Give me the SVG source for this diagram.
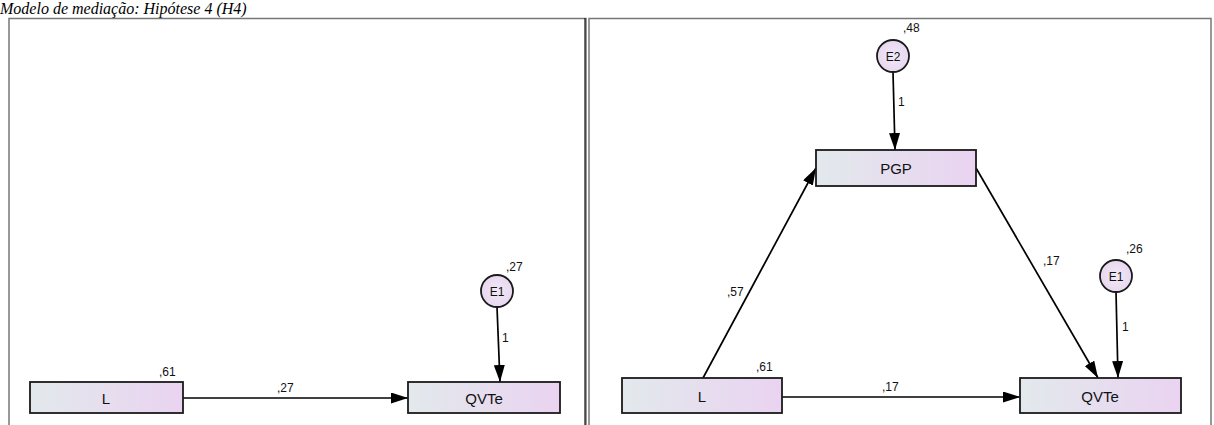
<svg xmlns="http://www.w3.org/2000/svg" width="1214" height="425" viewBox="0 0 1214 425">
  <style>
    .title { font-family: "Liberation Serif", "Times New Roman", serif; font-style: italic; font-size: 16px; fill: #000; }
    .panel { fill: #fff; stroke: #777; stroke-width: 1.5; }
    .var { stroke: #1a1a1a; stroke-width: 1.8; }
    .lbl { font-family: "Liberation Sans", Arial, sans-serif; font-size: 15px; fill: #111; text-anchor: middle; dominant-baseline: central; }
    .err { font-family: "Liberation Sans", Arial, sans-serif; font-size: 12px; fill: #111; text-anchor: middle; dominant-baseline: central; }
    .coef { font-family: "Liberation Sans", Arial, sans-serif; font-size: 12px; fill: #111; }
    .edge { stroke: #000; stroke-width: 1.7; fill: none; marker-end: url(#head); }
  </style>
  <defs>
    <linearGradient id="boxFill" x1="0" y1="0" x2="1" y2="0">
      <stop offset="0" stop-color="#e2e9ec"/>
      <stop offset="1" stop-color="#ead3f1"/>
    </linearGradient>
    <radialGradient id="errFill" cx="0.5" cy="0.5" r="0.6">
      <stop offset="0" stop-color="#f1e9f5"/>
      <stop offset="1" stop-color="#e6d4ef"/>
    </radialGradient>
    <marker id="head" viewBox="0 0 17 11" refX="17" refY="5.5" markerWidth="17" markerHeight="11" markerUnits="userSpaceOnUse" orient="auto">
      <path d="M0,0 L17,5.5 L0,11 Z" fill="#000"/>
    </marker>
  </defs>

  <rect width="1214" height="425" fill="#fff"/>

  <text class="title" x="0" y="14">Modelo de mediação: Hipótese 4 (H4)</text>

  <!-- panel frames -->
  <g id="frames">
    <rect class="panel" x="9" y="18.5" width="577" height="420"/>
    <line x1="585" y1="18" x2="585" y2="425" stroke="#111" stroke-width="1.2"/>
    <rect class="panel" x="589" y="18.5" width="622" height="420"/>
  </g>

  <!-- connectors -->
  <g id="connectors">
    <line class="edge" x1="183" y1="398" x2="408" y2="398"/>
    <line class="edge" x1="497" y1="307" x2="500" y2="382"/>

    <line class="edge" x1="893" y1="72" x2="895" y2="150"/>
    <line class="edge" x1="703" y1="378" x2="816" y2="168"/>
    <line class="edge" x1="976" y1="168" x2="1098" y2="378"/>
    <line class="edge" x1="782" y1="397" x2="1020" y2="397"/>
    <line class="edge" x1="1116" y1="292" x2="1118" y2="378"/>
  </g>

  <!-- connector weights -->
  <g id="weights">
    <text class="coef" x="277" y="392">,27</text>
    <text class="coef" x="502" y="342">1</text>
    <text class="coef" x="898" y="106">1</text>
    <text class="coef" x="727" y="296">,57</text>
    <text class="coef" x="1043" y="265">,17</text>
    <text class="coef" x="882" y="391">,17</text>
    <text class="coef" x="1122" y="331">1</text>
  </g>

  <!-- left model -->
  <g id="L1">
    <rect class="var" x="30" y="382" width="153" height="31" fill="url(#boxFill)"/>
    <text class="lbl" x="106" y="398">L</text>
    <text class="coef" x="159" y="376">,61</text>
  </g>
  <g id="QVTe1">
    <rect class="var" x="408" y="382" width="152" height="31" fill="url(#boxFill)"/>
    <text class="lbl" x="484" y="398">QVTe</text>
  </g>
  <g id="E1a">
    <circle class="var" cx="497" cy="291" r="16" fill="url(#errFill)"/>
    <text class="err" x="497" y="292">E1</text>
    <text class="coef" x="506" y="271">,27</text>
  </g>

  <!-- right model -->
  <g id="E2">
    <circle class="var" cx="893" cy="56" r="16" fill="url(#errFill)"/>
    <text class="err" x="893" y="57">E2</text>
    <text class="coef" x="903" y="32">,48</text>
  </g>
  <g id="PGP">
    <rect class="var" x="816" y="150" width="160" height="36" fill="url(#boxFill)"/>
    <text class="lbl" x="896" y="168">PGP</text>
  </g>
  <g id="L2">
    <rect class="var" x="622" y="378" width="160" height="35" fill="url(#boxFill)"/>
    <text class="lbl" x="702" y="396">L</text>
    <text class="coef" x="756" y="371">,61</text>
  </g>
  <g id="QVTe2">
    <rect class="var" x="1020" y="378" width="161" height="35" fill="url(#boxFill)"/>
    <text class="lbl" x="1100" y="396">QVTe</text>
  </g>
  <g id="E1b">
    <circle class="var" cx="1116" cy="276" r="16" fill="url(#errFill)"/>
    <text class="err" x="1116" y="277">E1</text>
    <text class="coef" x="1126" y="253">,26</text>
  </g>
</svg>
